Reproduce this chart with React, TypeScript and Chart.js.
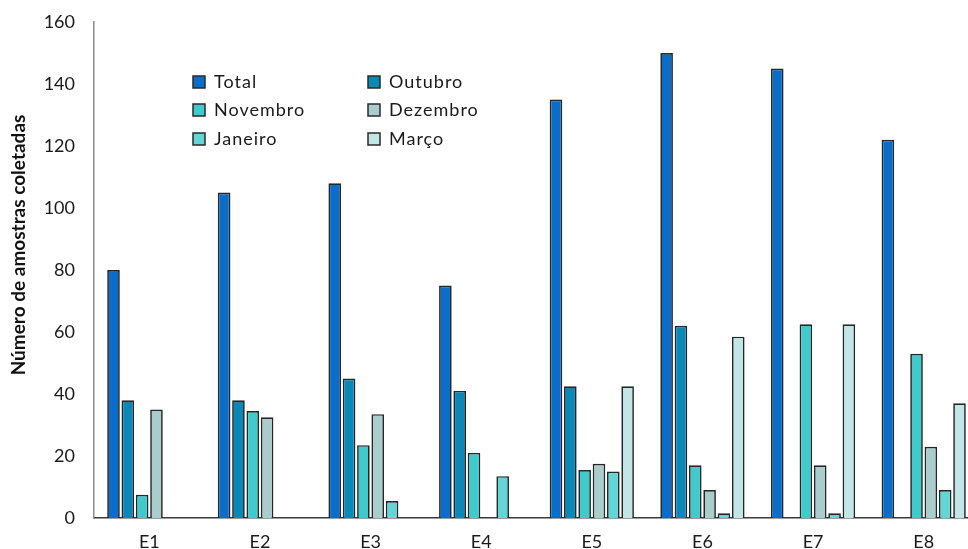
import React, { useEffect, useRef } from "react";
import { Chart, registerables } from "chart.js";

Chart.register(...registerables);

const categories = ["E1", "E2", "E3", "E4", "E5", "E6", "E7", "E8"];
const seriesNames = ["Total", "Outubro", "Novembro", "Dezembro", "Janeiro", "Março"];
const total = [80, 105, 108, 75, 135, 150, 145, 122];
const outubro = [38, 38, 45, 41, 42.5, 62, null, null];
const novembro = [7.5, 34.5, 23.5, 21, 15.5, 17, 62.5, 53];
const dezembro = [35, 32.5, 33.5, null, 17.5, 9, 17, 23];
const janeiro = [null, null, 5.5, 13.5, 15, 1.5, 1.5, 9];
const marco = [null, null, null, null, 42.5, 58.5, 62.5, 37];
const yTicks = [0, 20, 40, 60, 80, 100, 120, 140, 160];
const yTitle = "Número de amostras coletadas";

const seriesValues = [total, outubro, novembro, dezembro, janeiro, marco];
const seriesColors = ["#0A6DC9", "#0A89B8", "#3FCBCC", "#A9CDCD", "#62D5D6", "#C2E5E5"];

const FONT = "Lato, 'Open Sans', sans-serif";

const legendPlugin = {
  id: "gridLegend",
  afterDraw(chart: any) {
    const ctx = chart.ctx;
    const ds = chart.data.datasets;
    const colX = [193, 368];
    const rowY = [82, 110, 139];
    ctx.save();
    ctx.font = `18px ${FONT}`;
    (ctx as any).letterSpacing = "1px";
    ctx.textBaseline = "middle";
    ctx.textAlign = "left";
    ds.forEach((d: any, i: number) => {
      const x = colX[i % 2];
      const y = rowY[Math.floor(i / 2)];
      ctx.fillStyle = d.backgroundColor;
      ctx.fillRect(x, y - 6, 12, 12);
      ctx.strokeStyle = "#2a2a2a";
      ctx.lineWidth = 1.5;
      ctx.strokeRect(x, y - 6, 12, 12);
      ctx.fillStyle = "#1a1a1a";
      ctx.fillText(d.label, x + 21, y);
    });
    (ctx as any).letterSpacing = "0px";
    // y-axis title
    ctx.translate(19, 245);
    ctx.rotate(-Math.PI / 2);
    ctx.textAlign = "center";
    ctx.font = `bold 19px ${FONT}`;
    ctx.fillStyle = "#111";
    ctx.fillText(yTitle, 0, 0);
    ctx.restore();
  },
};

export default function App() {
  const ref = useRef<HTMLCanvasElement | null>(null);
  useEffect(() => {
    if (!ref.current) return;
    const chart = new Chart(ref.current, {
      type: "bar",
      data: {
        labels: categories,
        datasets: seriesNames.map((name, i) => ({
          label: name,
          data: seriesValues[i],
          backgroundColor: seriesColors[i],
          borderColor: "#262626",
          borderWidth: 1.7,
          categoryPercentage: 0.777,
          barPercentage: 0.88,
        })),
      },
      options: {
        animation: false,
        responsive: true,
        maintainAspectRatio: false,
        layout: { padding: { top: 22, right: 3, left: 0, bottom: 0 } },
        plugins: {
          legend: { display: false },
          tooltip: { enabled: false },
        },
        scales: {
          x: {
            grid: { display: false, drawTicks: false },
            border: { display: true, color: "#3a3a3a", width: 1.5 },
            ticks: { color: "#1a1a1a", font: { family: FONT, size: 18 }, padding: 13 },
            afterFit: (s: any) => {
              s.height = 31;
              s.paddingLeft = 0;
              s.paddingRight = 0;
            },
          },
          y: {
            min: 0,
            max: 160,
            afterBuildTicks: (s: any) => {
              s.ticks = yTicks.map((v) => ({ value: v }));
            },
            grid: { display: false, drawTicks: false },
            border: { display: true, color: "#8a8a8a", width: 1.5 },
            ticks: { color: "#1a1a1a", font: { family: FONT, size: 18 }, padding: 19 },
            afterFit: (s: any) => {
              s.width = 94;
              s.paddingTop = 0;
              s.paddingBottom = 0;
            },
          },
        },
      },
      plugins: [legendPlugin],
    });
    return () => chart.destroy();
  }, []);
  return (
    <div
      style={{
        position: "fixed",
        left: 0,
        top: 0,
        width: 968,
        height: 549,
        overflow: "hidden",
        background: "#fff",
      }}
    >
      <div style={{ position: "relative", width: 982, height: 549 }}>
        <canvas ref={ref} />
      </div>
    </div>
  );
}
